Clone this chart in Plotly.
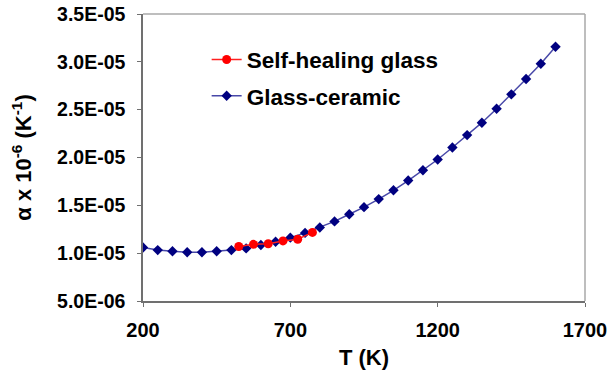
import plotly.graph_objects as go

# Glass-ceramic series
gc_T = [200, 250, 300, 350, 400, 450, 500, 550, 600, 650, 700, 750, 800, 850, 900,
        950, 1000, 1050, 1100, 1150, 1200, 1250, 1300, 1350, 1400, 1450, 1500, 1550, 1600]
gc_alpha = [1.060e-5, 1.032e-5, 1.020e-5, 1.010e-5, 1.010e-5, 1.020e-5, 1.032e-5, 1.050e-5,
            1.085e-5, 1.120e-5, 1.162e-5, 1.212e-5, 1.268e-5, 1.332e-5, 1.407e-5, 1.481e-5,
            1.565e-5, 1.657e-5, 1.759e-5, 1.867e-5, 1.979e-5, 2.105e-5, 2.234e-5, 2.364e-5,
            2.510e-5, 2.660e-5, 2.820e-5, 2.980e-5, 3.157e-5]

# Self-healing glass series
sh_T = [525, 575, 625, 675, 725, 775]
sh_alpha = [1.070e-5, 1.092e-5, 1.098e-5, 1.128e-5, 1.146e-5, 1.217e-5]

# Axis ticks
x_ticks = [200, 700, 1200, 1700]
y_tickvals = [5.0e-6, 1.0e-5, 1.5e-5, 2.0e-5, 2.5e-5, 3.0e-5, 3.5e-5]
y_ticktext = ["5.0E-06", "1.0E-05", "1.5E-05", "2.0E-05", "2.5E-05", "3.0E-05", "3.5E-05"]

FONT = "Liberation Sans, Arial, sans-serif"

fig = go.Figure()
fig.add_trace(go.Scatter(
    x=gc_T, y=gc_alpha, mode="lines+markers", name="Glass-ceramic",
    line=dict(color="#4848a8", width=1.5),
    marker=dict(symbol="diamond", size=8, color="#000080"),
    legendgroup="b", legendrank=2,
))
fig.add_trace(go.Scatter(
    x=sh_T, y=sh_alpha, mode="lines+markers", name="Self-healing glass",
    line=dict(color="#ff2020", width=1.5),
    marker=dict(symbol="circle", size=9, color="#ff0000"),
    legendgroup="a", legendrank=1,
))

fig.update_layout(
    width=609, height=374,
    margin=dict(l=143, r=24, t=14, b=73),
    paper_bgcolor="white", plot_bgcolor="white",
    font=dict(family=FONT, color="black"),
    showlegend=True,
    legend=dict(
        x=0.144, y=0.915, xanchor="left", yanchor="top",
        font=dict(family=FONT, size=22.5, color="black", weight="bold"),
        bgcolor="rgba(0,0,0,0)", tracegroupgap=4,
    ),
    xaxis=dict(
        range=[200, 1700], tickvals=x_ticks, ticktext=[str(v) for v in x_ticks],
        automargin=False,
        showgrid=False, zeroline=False,
        showline=True, linecolor="#707070", linewidth=1.5,
        ticks="outside", ticklen=4, tickcolor="#707070",
        tickfont=dict(family=FONT, size=20, weight="bold"),
        ticklabelstandoff=6,
        title=dict(text="<b>T (K)</b>", font=dict(family=FONT, size=22), standoff=10),
    ),
    yaxis=dict(
        range=[5.0e-6, 3.5e-5], tickvals=y_tickvals, ticktext=y_ticktext,
        automargin=False,
        showgrid=False, zeroline=False,
        showline=True, linecolor="#707070", linewidth=1.5,
        ticks="outside", ticklen=4, tickcolor="#707070",
        tickfont=dict(family=FONT, size=19.5, weight="bold"),
        ticklabelstandoff=8,
        title=dict(text="<b>α x 10<sup>-6</sup> (K<sup>-1</sup>)</b>",
                   font=dict(family=FONT, size=22), standoff=19),
    ),
)

# top and right frame lines (lighter grey)
fig.add_shape(type="line", xref="paper", yref="paper", x0=0, x1=1, y0=1, y1=1,
              line=dict(color="#a8a8a8", width=1.5))
fig.add_shape(type="line", xref="paper", yref="paper", x0=1, x1=1, y0=0, y1=1,
              line=dict(color="#a8a8a8", width=1.5))

fig.write_html("out.html")
